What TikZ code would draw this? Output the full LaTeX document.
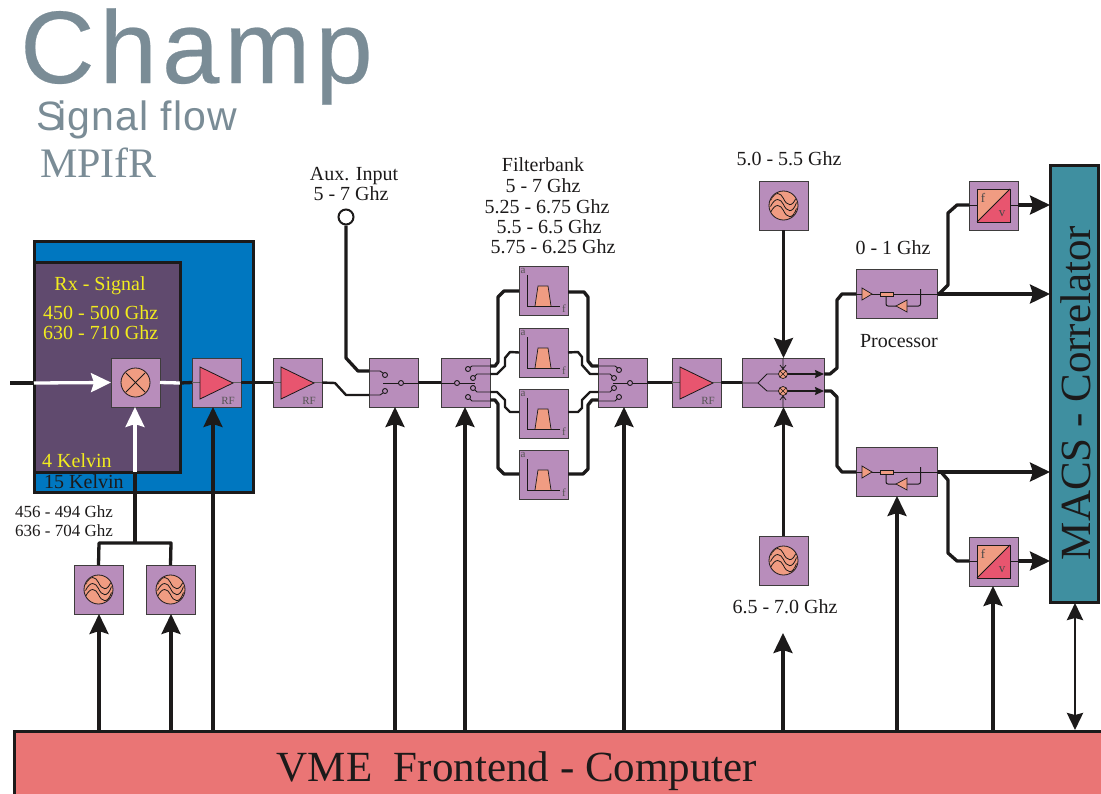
\documentclass[tikz,border=0pt]{standalone}
\usepackage{fontspec}
\setmainfont{Liberation Serif}
\newfontfamily\titlefont[LetterSpace=5,FakeBold=0.25]{Liberation Sans}
\newfontfamily\subfont[LetterSpace=2.5]{Liberation Sans}
\usetikzlibrary{arrows.meta,calc}
\definecolor{blk}{HTML}{1C1A1A}
\definecolor{lila}{HTML}{B88DBB}
\definecolor{orng}{HTML}{F09C82}
\definecolor{rose}{HTML}{E8556F}
\definecolor{coldblue}{HTML}{0077C0}
\definecolor{darkpl}{HTML}{604A6E}
\definecolor{teal2}{HTML}{3F8FA0}
\definecolor{vmered}{HTML}{EA7575}
\definecolor{greyt}{HTML}{7A8C96}
\definecolor{yel}{HTML}{F2EC1E}
\tikzset{
  block/.style={draw=blk!85,fill=lila,line width=1pt,minimum width=49pt,minimum height=49pt,inner sep=0pt,outer sep=0pt,anchor=north west},
  wide/.style={block,minimum width=81.5pt},
  wire/.style={draw=blk,line width=3.3pt,line join=round},
  ctl/.style={draw=blk,line width=3.3pt,-{Stealth[length=20pt,width=19pt,inset=3pt]}},
  ctlw/.style={draw=white,line width=3.3pt,-{Stealth[length=20pt,width=19pt,inset=3pt]}},
  sm/.style={draw=blk,line width=1.2pt,-{Stealth[length=9pt,width=8pt,inset=1pt]}},
  sw/.style={draw=blk,line width=.9pt,fill=lila,circle,inner sep=0pt,minimum size=5pt},
  lab/.style={font=\fontsize{20}{22}\selectfont,text=blk,inner sep=0pt},
  labs/.style={font=\fontsize{17}{20}\selectfont,text=blk,inner sep=0pt},
  ylab/.style={font=\fontsize{20}{22}\selectfont,text=yel,inner sep=0pt},
}
\newcommand{\ampsym}[1]{\begin{scope}[shift={(#1.north west)}]
  \draw[line width=.8pt,blk!70] (0,24.5)--(49,24.5);
  \draw[fill=rose,draw=blk,line width=.8pt] (8,9)--(41,25)--(8,41)--cycle;
  \node[inner sep=0pt,font=\fontsize{11}{11}\selectfont,text=blk!75] (#1rf) at (36,43) {RF};
\end{scope}}
\newcommand{\losym}[1]{\begin{scope}[shift={(#1.center)}]
  \draw[fill=orng,draw=blk,line width=.8pt] (0,0) circle (14.5);
  \begin{scope}
    \clip (0,0) circle (14);
    \foreach \d in {-6,0,6}
      \draw[blk,line width=.8pt] (-13,\d+1) .. controls (-8,\d-9) and (-3,\d-7) .. (0,\d-1) .. controls (3,\d+6) and (9,\d+9) .. (13,\d-3);
  \end{scope}
\end{scope}}
\newcommand{\filtsym}[1]{\begin{scope}[shift={(#1.north west)}]
  \draw[fill=orng,draw=blk,line width=.7pt] (16,40)--(19,20)--(29,20)--(32,40);
  \draw[blk,line width=.9pt] (8,9)--(8,40)--(41,40);
  \node[inner sep=0pt,font=\fontsize{11}{11}\selectfont,text=blk!75] (#1a) at (4,5) {a};
  \node[inner sep=0pt,font=\fontsize{11}{11}\selectfont,text=blk!75] (#1f) at (45,43) {f};
\end{scope}}
\newcommand{\procsym}[1]{\begin{scope}[shift={(#1.north west)}]
  \draw[blk,line width=.9pt] (0,25)--(81.5,25);
  \draw[blk,line width=1pt,rounded corners=2pt] (30,27)--(30,37)--(40,37);
  \draw[blk,line width=1pt,rounded corners=2pt] (50,37)--(64.5,37)--(64.5,20);
  \draw[fill=orng,draw=blk,line width=.7pt] (6,19)--(16,25)--(6,31)--cycle;
  \draw[fill=orng,draw=blk,line width=.7pt] (24,23)rectangle(37,27);
  \draw[fill=orng,draw=blk,line width=.7pt] (40,37)--(51,31)--(51,43)--cycle;
\end{scope}}
\newcommand{\fvsym}[1]{\begin{scope}[shift={(#1.north west)}]
  \draw[blk,line width=.8pt] (0,24.5)--(49,24.5);
  \fill[orng] (8,8)--(41,8)--(8,41)--cycle;
  \fill[rose] (41,8)--(41,41)--(8,41)--cycle;
  \draw[blk,line width=1pt] (8,8) rectangle (41,41);
  \draw[blk,line width=1pt] (41,8)--(8,41);
  \node[inner sep=0pt,font=\fontsize{13}{13}\selectfont,text=blk!80] (#1f) at (14,17) {f};
  \node[inner sep=0pt,font=\fontsize{13}{13}\selectfont,text=blk!80] (#1v) at (33,33) {v};
\end{scope}}
\begin{document}
\begin{tikzpicture}[x=1pt,y=-1pt]
\useasboundingbox (0,0) rectangle (1101,793);
% titles
\node[anchor=base west,inner sep=0pt,text=greyt,font=\titlefont\fontsize{103}{103}\selectfont] (title) at (20,83) {\smash{Champ}};
\node[anchor=base west,inner sep=0pt,text=greyt,font=\subfont\fontsize{41}{41}\selectfont] (sub) at (36,130) {S\kern-6pt ignal flow};
\node[anchor=base west,inner sep=0pt,text=greyt,font=\fontsize{42}{42}\selectfont] (inst) at (40,177) {MPIfR};
% cryostat
\node[draw=blk,fill=coldblue,line width=3pt,minimum width=219pt,minimum height=251pt,anchor=north west,inner sep=0pt,outer sep=0pt] (cold) at (34,241) {};
\node[draw=blk,fill=darkpl,line width=3pt,minimum width=146pt,minimum height=210pt,anchor=north west,inner sep=0pt,outer sep=0pt] (cryo) at (34,262) {};
\coordinate (rfin) at (10,383);
\coordinate (crin) at (34,383);
\coordinate (crout) at (180,383);
\coordinate (crbot) at (135,472);
% blocks
\node[block] (mixer) at (111,358) {};
\node[block] (amp1) at (192,358) {};
\node[block] (amp2) at (273,358) {};
\node[block] (sw1) at (369,358) {};
\node[block] (sw2) at (441,358) {};
\node[block] (sw3) at (598,358) {};
\node[block] (amp3) at (672,358) {};
\node[block] (flt1) at (519,266) {};
\node[block] (flt2) at (519,328) {};
\node[block] (flt3) at (519,389) {};
\node[block] (flt4) at (519,450) {};
\node[block,minimum width=82pt] (mix2) at (742,358) {};
\node[block] (lotop) at (759,181) {};
\node[block] (lobot) at (759,536) {};
\node[block] (loa) at (74,565) {};
\node[block] (lob) at (146,565) {};
\node[wide] (proc1) at (856,269) {};
\node[wide] (proc2) at (856,447) {};
\node[block] (fv1) at (969,181) {};
\node[block] (fv2) at (969,537) {};
\node[draw=blk,fill=teal2,line width=3pt,minimum width=48.5pt,minimum height=437pt,anchor=north west,inner sep=0pt,outer sep=0pt] (macs) at (1050,165) {};
\node[fill=vmered,draw=blk,line width=3pt,minimum width=1100pt,minimum height=80pt,anchor=north west,inner sep=0pt,outer sep=0pt] (vme) at (14,731) {};
\node[font=\fontsize{43}{43}\selectfont,text=blk,inner sep=0pt,anchor=base] (vmetxt) at (517,781) {VME\ \ Frontend - Computer};
\node[rotate=90,font=\fontsize{43}{43}\selectfont,text=blk,inner sep=0pt,anchor=base] (macstxt) at (1090,393) {MACS - Correlator};
% signal path
\draw[wire] (rfin)--(crin);
\draw[ctlw] (crin)--(mixer.west);
\draw[draw=white,line width=3.3pt] (mixer.east)--(crout);
\draw[wire] (crout)--(amp1.west);
\draw[wire] (amp1.east)--(amp2.west);
\draw[wire,line width=2.4pt] (amp2.east)--(335,383)--(346,395)--(sw1.west|-0,395);
\node[draw=blk,fill=white,line width=2pt,circle,minimum size=15pt,inner sep=0pt] (aux) at (346,217) {};
\draw[wire] (aux.south)--(346,358)--(358,371)--(sw1.west|-0,371);
\draw[wire] (sw1.east)--(sw2.west);
% filterbank
\draw[wire] (sw2.east|-0,366)--(495,366)--(498,362)--(498,297)--(504,291)--(flt1.west|-0,291);
\draw[wire,line width=2.4pt] (sw2.east|-0,374)--(497,374)--(505,366)--(505,358)--(510,352)--(flt2.west);
\draw[wire,line width=2.4pt] (sw2.east|-0,392)--(497,392)--(505,400)--(505,407)--(510,412)--(flt3.west|-0,412);
\draw[wire] (sw2.east|-0,400)--(495,400)--(498,404)--(498,468)--(504,474)--(flt4.west|-0,474);
\draw[wire] (flt1.east|-0,292)--(584,292)--(588,297)--(588,361)--(592,366)--(sw3.west|-0,366);
\draw[wire,line width=2.4pt] (flt2.east)--(578,352)--(582,357)--(582,365)--(590,374)--(sw3.west|-0,374);
\draw[wire,line width=2.4pt] (flt3.east|-0,412)--(578,412)--(582,408)--(582,400)--(590,392)--(sw3.west|-0,392);
\draw[wire] (flt4.east|-0,474)--(583,474)--(588,469)--(588,405)--(592,400)--(sw3.west|-0,400);
\draw[wire] (sw3.east)--(amp3.west);
\draw[wire] (amp3.east)--(mix2.west);
% mix2 outputs
\draw[wire] (mix2.east|-0,374)--(830,374)--(837,368)--(837,300)--(842,294)--(proc1.west|-0,294);
\draw[wire] (mix2.east|-0,391)--(831,391)--(837,397)--(837,466)--(842,472)--(proc2.west|-0,472);
\draw[ctl] (proc1.east|-0,294)--(macs.west|-0,294);
\draw[ctl] (proc2.east|-0,472)--(macs.west|-0,472);
\draw[wire] (proc1.east|-0,294)--(940,293)--(948,285)--(948,213)--(957,205)--(fv1.west|-0,205);
\draw[wire] (proc2.east|-0,472)--(941,472)--(948,480)--(948,553)--(957,561)--(fv2.west|-0,561);
\draw[ctl] (fv1.east|-0,205)--(macs.west|-0,205);
\draw[ctl] (fv2.east|-0,561)--(macs.west|-0,561);
% LO
\draw[ctl] (lotop.south)--(mix2.north-|lotop.south);
\draw[ctl] (lobot.north)--(mix2.south-|lobot.north);
\draw[wire] (loa.north)--(99,543)--(171,543)--(lob.north);
\draw[wire] (135,543)--(crbot);
\draw[ctlw] (crbot)--(crbot|-mixer.south);
% control
\foreach \src/\dst in {99/loa,171/lob,213/amp1,395/sw1,465/sw2,624/sw3,897/proc2,993/fv2}
  \draw[ctl] (\src,731)--(\src,0|-\dst.south);
\coordinate (lolow) at (783,633);
\draw[ctl] (783,731)--(lolow);
\draw[draw=blk,line width=2.8pt,{Stealth[length=17pt,width=16pt,inset=2pt]}-{Stealth[length=17pt,width=16pt,inset=2pt]}] (1075,730)--(1075,603);
% symbols
\draw[fill=orng,draw=blk,line width=.8pt] (mixer.center) circle (14.5);
\draw[blk,line width=.9pt] ($(mixer.center)+(-9.5,-9.5)$)--($(mixer.center)+(9.5,9.5)$);
\draw[blk,line width=.9pt] ($(mixer.center)+(-9.5,9.5)$)--($(mixer.center)+(9.5,-9.5)$);
\ampsym{amp1}\ampsym{amp2}\ampsym{amp3}
\losym{lotop}\losym{lobot}\losym{loa}\losym{lob}
\filtsym{flt1}\filtsym{flt2}\filtsym{flt3}\filtsym{flt4}
\procsym{proc1}\procsym{proc2}
\fvsym{fv1}\fvsym{fv2}
% switch 1
\begin{scope}[shift={(sw1.north west)}]
 \draw[blk,line width=.9pt] (0,13)--(11,13)--(14,15);
 \draw[blk,line width=.9pt] (0,37)--(11,37)--(14,35);
 \draw[blk,line width=.9pt] (14,25)--(49,25);
 \node[sw] (s1a) at (16,17) {};
 \node[sw] (s1b) at (16,33) {};
 \node[sw] (s1c) at (32,25) {};
\end{scope}
% switch 2
\begin{scope}[shift={(sw2.north west)}]
 \draw[blk,line width=.9pt] (0,25)--(34,25);
 \draw[blk,line width=.9pt] (27,11)--(31,8)--(49,8);
 \draw[blk,line width=.9pt] (32,20)--(36,16)--(49,16);
 \draw[blk,line width=.9pt] (32,30)--(36,34)--(49,34);
 \draw[blk,line width=.9pt] (27,39)--(31,43)--(49,43);
 \node[sw] (s2c) at (16,25) {};
 \node[sw] (s2a) at (27,11) {};
 \node[sw] (s2b) at (32,20) {};
 \node[sw] (s2d) at (32,30) {};
 \node[sw] (s2e) at (27,39) {};
\end{scope}
% switch 3
\begin{scope}[shift={(sw3.north west)}]
 \draw[blk,line width=.9pt] (15,25)--(49,25);
 \draw[blk,line width=.9pt] (0,8)--(17,8)--(21,11);
 \draw[blk,line width=.9pt] (0,16)--(12,16)--(16,20);
 \draw[blk,line width=.9pt] (0,34)--(12,34)--(16,30);
 \draw[blk,line width=.9pt] (0,43)--(17,43)--(21,39);
 \node[sw] (s3a) at (21,12) {};
 \node[sw] (s3b) at (16,20) {};
 \node[sw] (s3d) at (16,30) {};
 \node[sw] (s3e) at (21,39) {};
 \node[sw] (s3c) at (32,25) {};
\end{scope}
% mix2 internals
\begin{scope}[shift={(mix2.north west)}]
 \draw[blk,line width=.9pt] (0,25)--(16,25)--(25,16)--(41,16);
 \draw[blk,line width=.9pt] (16,25)--(25,33)--(41,33);
 \draw[sm] (41,16)--(82,16);
 \draw[sm] (41,33)--(82,33);
 \draw[blk,line width=.8pt] (41,0)--(41,11) (38,7)--(41,11)--(44,7);
 \draw[blk,line width=.8pt] (41,49)--(41,38) (38,42)--(41,38)--(44,42);
 \foreach \yy in {16,33}{
  \draw[fill=orng,draw=blk,line width=.7pt] (41,\yy) circle (4.5);
  \draw[blk,line width=.6pt] (38,\yy-3)--(44,\yy+3) (38,\yy+3)--(44,\yy-3);
 }
\end{scope}
% labels
\node[ylab] (rx) at (100,286) {Rx - Signal};
\node[ylab,anchor=west] (f1) at (43,313) {450 - 500 Ghz};
\node[ylab,anchor=west] (f2) at (43,333) {630 - 710 Ghz};
\node[ylab,anchor=west] (k4) at (42,461) {4 Kelvin};
\node[lab,anchor=west] (k15) at (44,482) {15 Kelvin};
\node[labs,anchor=west] (lo1) at (15,512) {456 - 494 Ghz};
\node[labs,anchor=west] (lo2) at (15,531) {636 - 704 Ghz};
\node[lab] (auxa) at (354,176) {Aux. Input};
\node[lab] (auxb) at (351,194) {5 - 7 Ghz};
\node[lab] (fb0) at (543,165) {Filterbank};
\node[lab] (fb1) at (543,186) {5 - 7 Ghz};
\node[lab] (fb2) at (547,207) {5.25 - 6.75 Ghz};
\node[lab] (fb3) at (549,227) {5.5 - 6.5 Ghz};
\node[lab] (fb4) at (553,247) {5.75 - 6.25 Ghz};
\node[lab] (lotxt) at (789,159) {5.0 - 5.5 Ghz};
\node[lab] (lotxb) at (785,607) {6.5 - 7.0 Ghz};
\node[lab] (ifl) at (893,248) {0 - 1 Ghz};
\node[lab] (prc) at (899,341) {Processor};
\end{tikzpicture}
\end{document}
